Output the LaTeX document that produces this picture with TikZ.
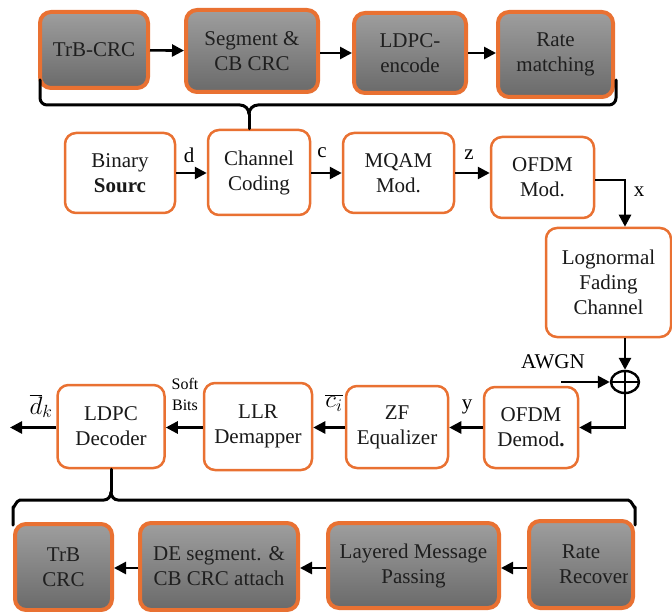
\RequirePackage{fix-cm}
\documentclass[tikz,border=0pt]{standalone}
\usepackage{fontspec}
\setmainfont{Liberation Serif}
\usetikzlibrary{arrows.meta,shadows,shapes.geometric}
\definecolor{org}{RGB}{233,113,50}
\definecolor{gtop}{RGB}{158,158,158}
\definecolor{gbot}{RGB}{106,106,106}
\tikzset{
  big/.style={font=\fontsize{21}{25}\selectfont},
  wbox/.style={big, draw=org, line width=2.5pt, rounded corners=11pt, fill=white, align=center, inner sep=0pt, text=black!90},
  gbox/.style={big, draw=org, line width=4pt, rounded corners=11pt, top color=gtop, bottom color=gbot, align=center, inner sep=0pt, text=black!88,
     drop shadow={opacity=0.3, shadow xshift=1.5pt, shadow yshift=-1.5pt}},
  arr/.style={line width=2.6pt, -{Triangle[length=12pt,width=12pt]}},
  lbl/.style={big, inner sep=0pt},
  brc/.style={line width=3pt, line join=round, line cap=round}
}
\begin{document}
\begin{tikzpicture}[x=1pt,y=-1pt]
\useasboundingbox (0,0) rectangle (672,612);
% top row (gray)
\node[gbox, minimum width=108pt, minimum height=76pt] (trb) at (94,50) {TrB-CRC};
\node[gbox, minimum width=132pt, minimum height=82pt] (seg) at (252,51) {Segment \&\\CB CRC};
\node[gbox, minimum width=112pt, minimum height=80pt] (ldpce) at (410,53) {LDPC-\\encode};
\node[gbox, minimum width=115pt, minimum height=85pt] (ratem) at (555.5,54.5) {Rate\\matching};
\draw[arr] (trb) -- (seg);
\draw[arr] (seg.east |- ldpce) -- (ldpce);
\draw[arr] (ldpce) -- (ratem.west |- ldpce);
% top brace
\coordinate (ttip) at (249,114);
\draw[brc] (40,80) -- (40,98) to[out=-90,in=180] (47,105) -- (240,105) to[out=0,in=90] (ttip);
\draw[brc] (616,80) -- (616,98) to[out=-90,in=0] (609,105) -- (258,105) to[out=180,in=90] (ttip);
% second row
\node[wbox, minimum width=110pt, minimum height=80pt] (src) at (120,173) {Binary\\\textbf{Sourc}};
\node[wbox, minimum width=102pt, minimum height=85pt] (cc) at (259,172.5) {Channel\\Coding};
\node[wbox, minimum width=111pt, minimum height=80pt] (mqam) at (398.5,173) {MQAM\\Mod.};
\node[wbox, minimum width=103pt, minimum height=81pt] (ofdm) at (542.5,177.5) {OFDM\\Mod.};
\draw[brc] (ttip) -- (ttip |- cc.north);
\draw[arr] (src) -- (cc.west |- src);
\draw[arr] (cc.east |- src) -- (mqam);
\draw[arr] (mqam) -- (ofdm.west |- mqam);
\node[lbl] (ld) at (189,155) {d};
\node[lbl] (lc) at (322,153) {c};
\node[lbl] (lz) at (469,155) {z};
% channel
\node[wbox, minimum width=125pt, minimum height=109pt] (logn) at (608.5,282.5) {Lognormal\\Fading\\Channel};
\node[draw, line width=2.4pt, ellipse, minimum width=28pt, minimum height=22pt, inner sep=0pt] (op) at (625,382) {};
\draw[line width=2.4pt] (op.north) -- (op.south) (op.west) -- (op.east);
\draw[arr] (ofdm.east |- 0,180) -| (op |- logn.north);
\node[lbl] (lx) at (639,192) {x};
\draw[arr] (op |- logn.south) -- (op.north);
\coordinate (awgn) at (561,382);
\node[lbl] (lawgn) at (553,362) {AWGN};
\draw[arr] (awgn) -- (op.west);
% bottom row
\node[wbox, minimum width=94pt, minimum height=81pt] (demod) at (531,427.5) {OFDM\\Demod\textbf{.}};
\node[wbox, minimum width=102pt, minimum height=82pt] (zf) at (397,427) {ZF\\Equalizer};
\node[wbox, minimum width=108pt, minimum height=87pt] (llr) at (258,426.5) {LLR\\Demapper};
\node[wbox, minimum width=107pt, minimum height=83pt] (ldpcd) at (111,426.5) {LDPC\\Decoder};
\draw[arr] (op.south) |- (demod.east);
\draw[arr] (demod.west) -- (zf.east |- demod.west);
\draw[arr] (zf.west |- demod.west) -- (llr.east |- demod.west);
\draw[arr] (llr.west |- demod.west) -- (ldpcd.east |- demod.west);
\coordinate (out) at (10,427.5);
\draw[arr] (ldpcd.west |- out) -- (out);
\node[lbl] (ly) at (467,407) {y};
\node[lbl] (lci) at (334,403) {\scalebox{1.2}{$\overline{c_i}$}};
\node[inner sep=0pt, align=center, font=\fontsize{16}{21}\selectfont] (lsoft) at (185,394) {Soft\\Bits};
\node[lbl] (ldk) at (41,406) {\scalebox{1.2}{$\overline{d}_k$}};
% bottom brace
\coordinate (btip) at (111,492);
\draw[brc] (ldpcd.south) -- (btip);
\draw[brc] (13,525) -- (13,507) to[out=-90,in=180] (20,500) -- (104,500) to[out=0,in=-90] (btip);
\draw[brc] (635,525) -- (635,507) to[out=-90,in=0] (628,500) -- (118,500) to[out=180,in=-90] (btip);
% bottom gray row
\node[gbox, minimum width=97pt, minimum height=86pt] (trbc) at (63.5,567) {TrB\\CRC};
\node[gbox, minimum width=158pt, minimum height=87pt] (deseg) at (219,566.5) {DE segment. \&\\CB CRC attach};
\node[gbox, minimum width=171pt, minimum height=85pt] (layer) at (413.5,565.5) {Layered Message\\Passing};
\node[gbox, minimum width=104pt, minimum height=87pt] (rate) at (581,564.5) {};
\begin{scope}
\clip (531,522) rectangle (627,607);
\node[lbl, text=black!88] (trate) at (581,552) {Rate};
\node[lbl, text=black!88, anchor=west] (trec) at (559,577) {Recover};
\end{scope}
\draw[arr] (rate.west |- 0,568) -- (layer.east |- 0,568);
\draw[arr] (layer.west |- 0,568) -- (deseg.east |- 0,568);
\draw[arr] (deseg.west |- 0,568) -- (trbc.east |- 0,568);
\end{tikzpicture}
\end{document}
